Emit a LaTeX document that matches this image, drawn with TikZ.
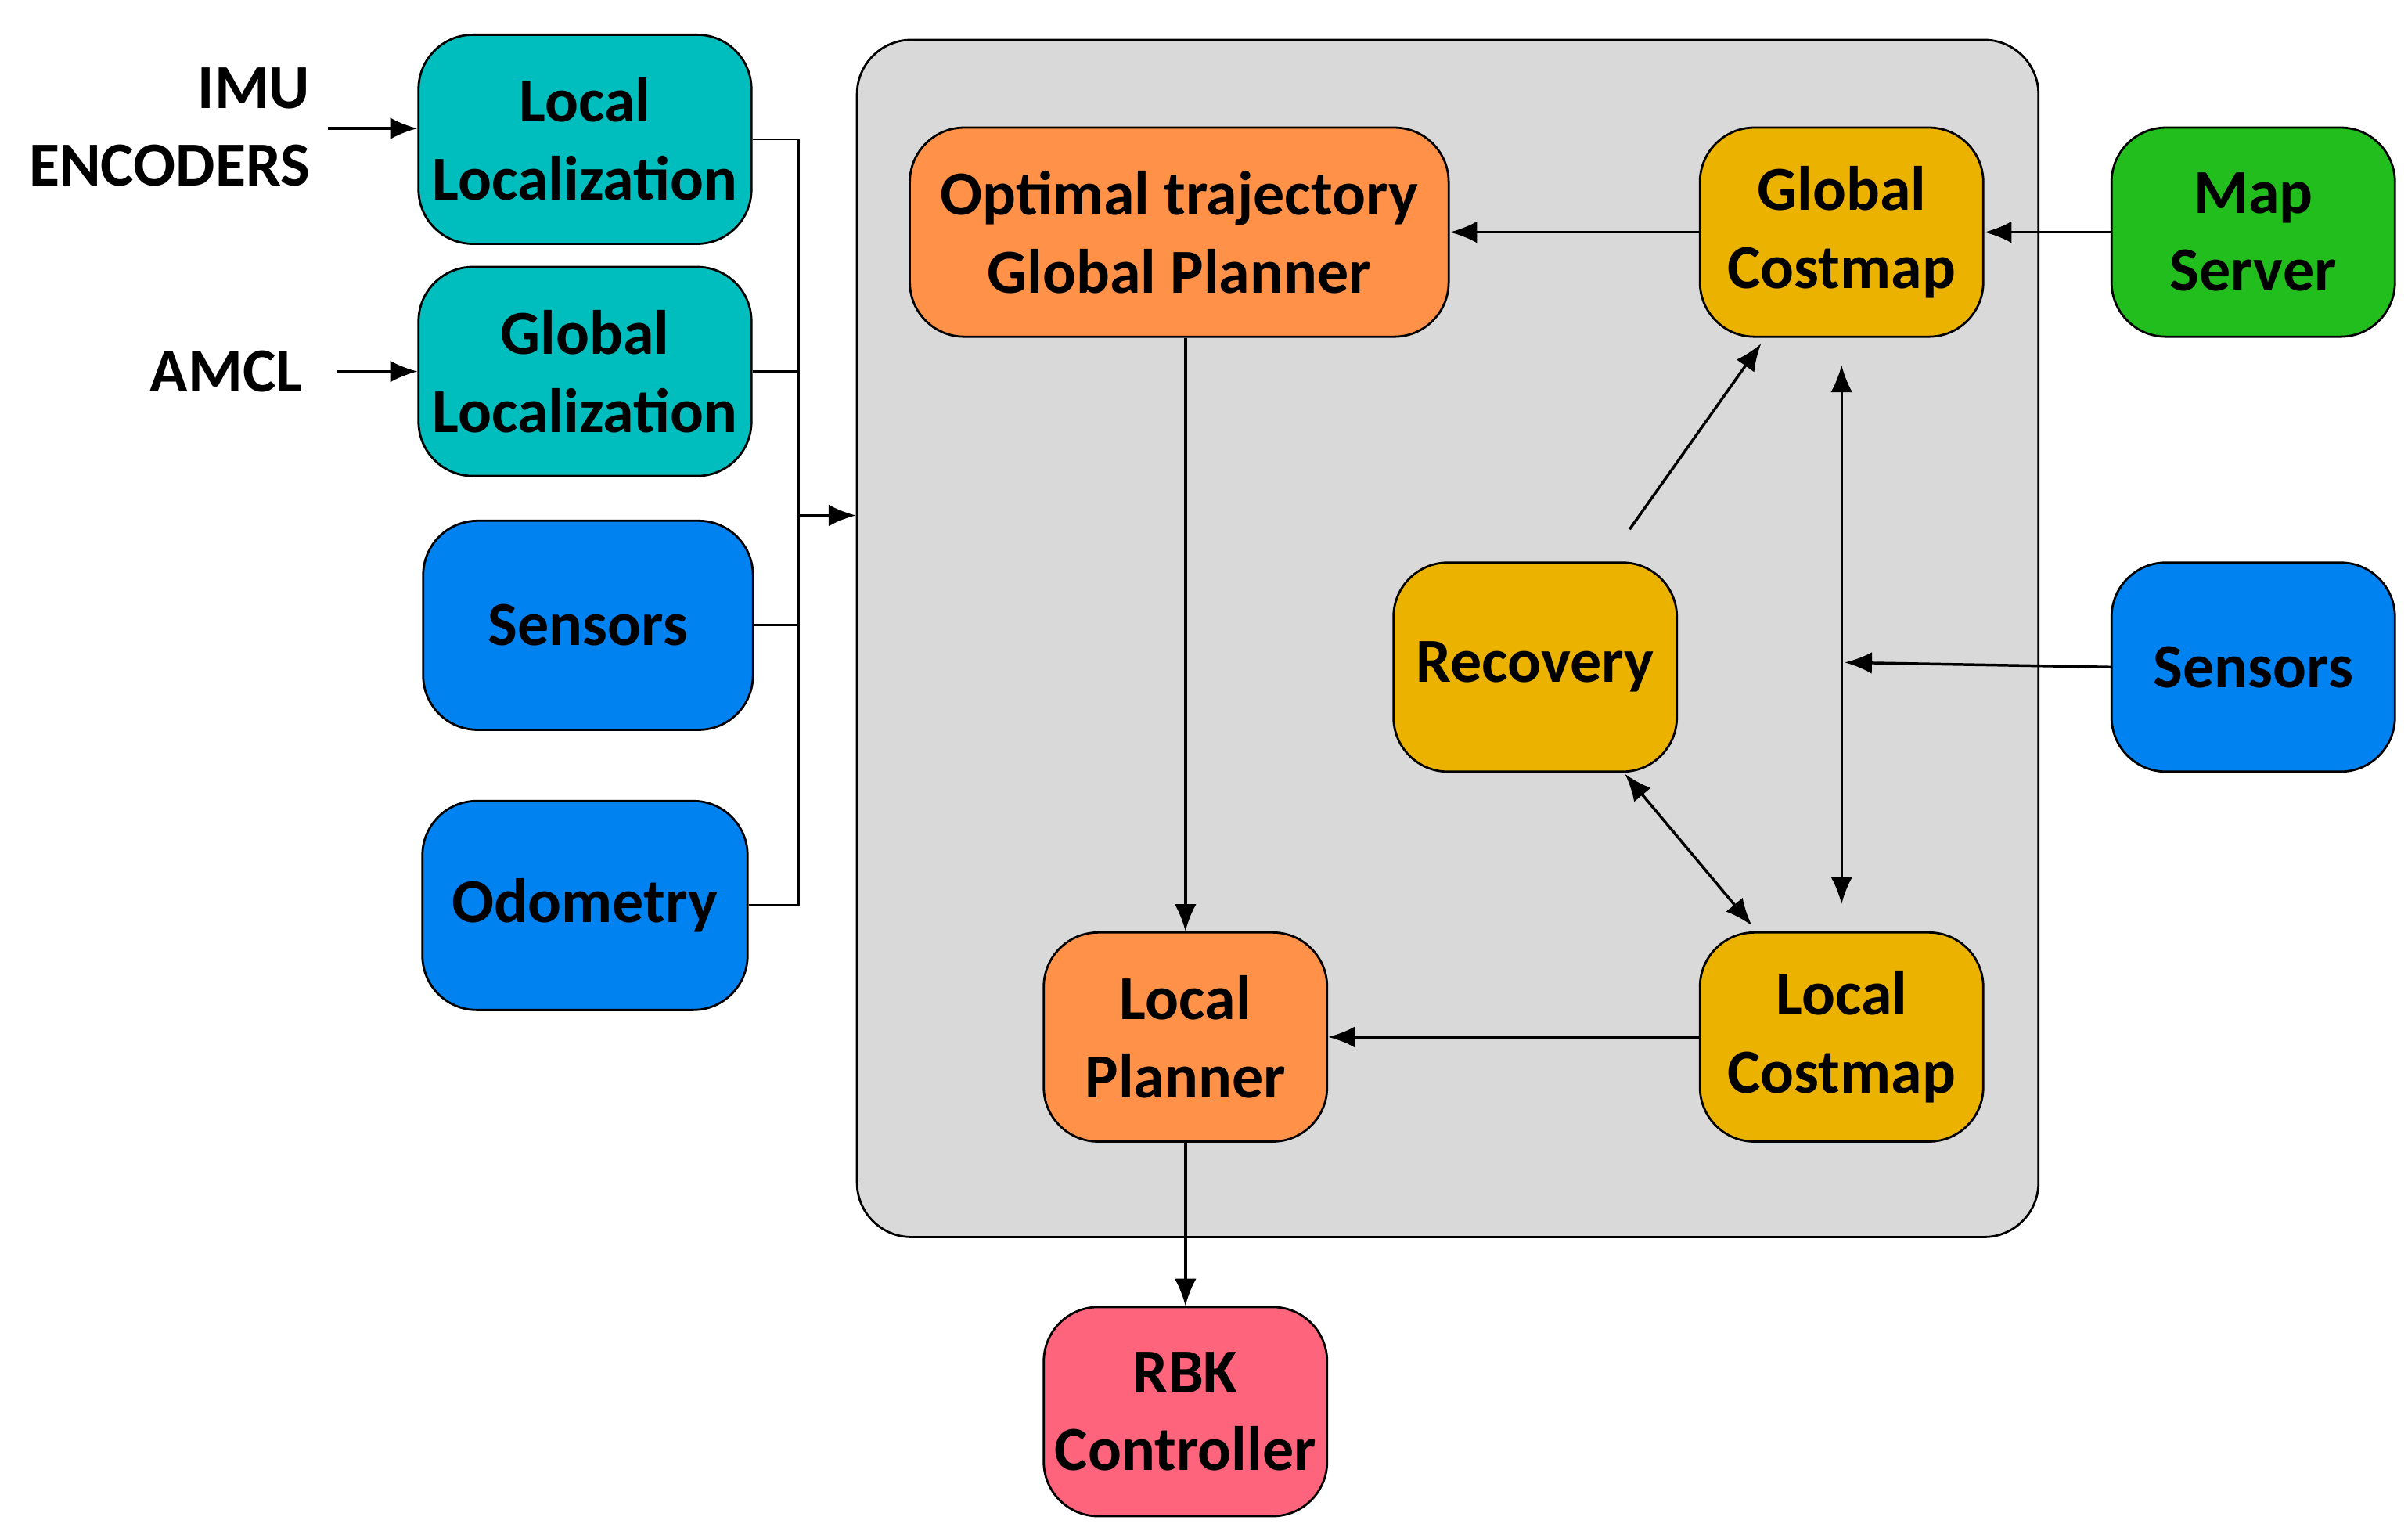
\documentclass[tikz,border=0pt]{standalone}
\usepackage{fontspec}
\setmainfont{Carlito}
\usetikzlibrary{arrows.meta,positioning}
\definecolor{tealbox}{RGB}{0,190,190}
\definecolor{bluebox}{RGB}{0,130,240}
\definecolor{orangebox}{RGB}{255,146,72}
\definecolor{goldbox}{RGB}{236,178,0}
\definecolor{greenbox}{RGB}{34,190,30}
\definecolor{pinkbox}{RGB}{255,100,125}
\definecolor{panel}{RGB}{217,217,217}
\tikzset{
  blk/.style={draw=black,rounded corners=10pt,minimum height=1.35cm,minimum width=#1,align=center,inner sep=0pt,
    font=\fontsize{11.5}{14.3}\selectfont\bfseries},
  blk/.default=1.83cm,
  arr/.style={-{Latex[length=5pt,width=4pt]},line width=0.5pt},
  darr/.style={{Latex[length=5pt,width=4pt]}-{Latex[length=5pt,width=4pt]},line width=0.5pt},
  lbl/.style={font=\fontsize{11.5}{14.3}\selectfont\bfseries,inner sep=0pt}
}
\begin{document}
\begin{tikzpicture}[x=0.01cm,y=-0.01cm]
	\useasboundingbox (0,0) rectangle (1556,989);
	% gray panel
	\node[draw=black,fill=panel,rounded corners=10pt,minimum width=7.63cm,minimum height=7.73cm,inner sep=0pt] (panel) at (935.5,412.5) {};
	% left column
	\node[blk=2.15cm,fill=tealbox] (locloc) at (378,90) {Local\\Localization};
	\node[blk=2.15cm,fill=tealbox] (globloc) at (378,240) {Global\\Localization};
	\node[blk=2.13cm,fill=bluebox] (sensl) at (380,404) {Sensors};
	\node[blk=2.10cm,fill=bluebox] (odom) at (378,585) {Odometry};
	\node[lbl,anchor=east] (imu) at (201,57) {IMU};
	\node[lbl,anchor=east] (enc) at (201,107) {ENCODERS};
	\node[lbl,anchor=east] (amcl) at (196,240) {AMCL};
	\coordinate (imuend) at (212,83);
	\coordinate (amclend) at (218,240);
	\draw[arr] (imuend) -- (imuend -| locloc.west);
	\draw[arr] (amclend) -- (globloc.west);
	% bus
	\coordinate (bustop) at (516,90);
	\coordinate (busbot) at (516,585);
	\coordinate (busmid) at (516,333);
	\draw (locloc.east) -- (bustop) -- (busbot) -- (odom.east);
	\draw (globloc.east) -- (globloc.east -| bustop);
	\draw (sensl.east) -- (sensl.east -| bustop);
	\draw[arr] (busmid) -- (busmid -| panel.west);
	% inner blocks
	\node[blk=3.48cm,fill=orangebox] (gplan) at (762,150) {Optimal trajectory\\Global Planner};
	\node[blk,fill=goldbox] (gcost) at (1190,150) {Global\\Costmap};
	\node[blk,fill=greenbox] (mapsrv) at (1456,150) {Map\\Server};
	\node[blk,fill=goldbox] (recov) at (992,431) {Recovery};
	\node[blk,fill=bluebox] (sensr) at (1456,431) {Sensors};
	\node[blk,fill=orangebox] (lplan) at (766,670) {Local\\Planner};
	\node[blk,fill=goldbox] (lcost) at (1190,670) {Local\\Costmap};
	\node[blk,fill=pinkbox] (rbk) at (766,912) {RBK\\Controller};
	% connectors
	\draw[arr] (gcost) -- (gplan);
	\draw[arr] (mapsrv) -- (gcost);
	\draw[arr] (gplan.south -| lplan) -- (lplan);
	\draw[arr] (lcost) -- (lplan);
	\draw[arr] (lplan) -- (rbk);
	\draw[darr] ([yshift=-5pt]gcost.south) -- ([yshift=5pt]lcost.north);
	\draw[arr] (sensr.west) -- (1192,428);
	\coordinate (recovtop) at (1053,342);
	\draw[arr] (recovtop) -- (1138,222);
	\draw[darr] (1050,500) -- (1132,598);
\end{tikzpicture}
\end{document}
